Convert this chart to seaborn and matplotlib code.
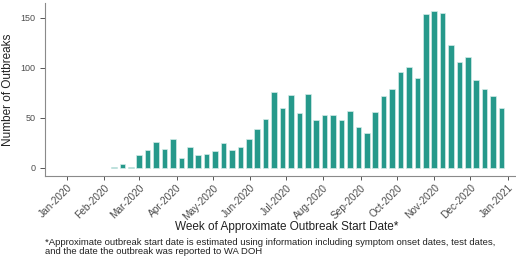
import matplotlib
matplotlib.use("Agg")
import matplotlib.pyplot as plt
import matplotlib.dates as mdates
import seaborn as sns
import numpy as np
import pandas as pd

# weekly outbreak counts, weeks starting Sunday
week_start = "2020-02-09"
n_weeks = 47
outbreaks = [
    1, 4, 1, 13, 18, 26, 19, 29, 10, 21, 13, 14, 17, 25, 18, 21, 29, 39,
    49, 76, 60, 73, 55, 74, 48, 53, 53, 48, 57, 41, 35, 56, 72, 79, 96,
    101, 90, 154, 157, 155, 123, 106, 111, 88, 79, 72, 60,
]
month_ticks = pd.date_range("2020-01-01", "2021-01-01", freq="MS")
y_ticks = [0, 50, 100, 150]

bar_color = "#26998b"
grey_text = "#4d4d4d"

weeks = pd.date_range(week_start, periods=n_weeks, freq="7D")
df = pd.DataFrame({"x": mdates.date2num(weeks), "n": outbreaks})

sns.set_style("ticks")
plt.rcParams["font.family"] = ["Liberation Sans", "DejaVu Sans"]

fig = plt.figure(figsize=(5.16, 2.59), dpi=100)
ax = fig.add_axes([45 / 516, 1 - 175.7 / 259, 1 - 45 / 516, (175.7 - 3) / 259])

sns.barplot(
    data=df, x="x", y="n", native_scale=True, width=0.66,
    color=bar_color, saturation=1, edgecolor="#d4ece8", linewidth=0.5, ax=ax,
)

x0 = mdates.date2num(pd.Timestamp("2020-01-01"))
ax.set_xlim(x0 - 18.3, x0 + 373)
ax.set_ylim(-7.85, 164.85)

ax.set_xticks(mdates.date2num(month_ticks))
ax.xaxis.set_major_formatter(mdates.DateFormatter("%b-%Y"))
plt.setp(ax.get_xticklabels(), rotation=45, ha="right", rotation_mode="anchor")
ax.set_yticks(y_ticks)

ax.tick_params(axis="both", labelcolor=grey_text,
               color="#555555", length=3, width=0.7, pad=2)
ax.tick_params(axis="x", labelsize=7.3)
ax.tick_params(axis="y", labelsize=6.5, length=3.5, pad=3.5)
for side in ["top", "right"]:
    ax.spines[side].set_visible(False)
for side in ["left", "bottom"]:
    ax.spines[side].set_color("#8a8a8a")
    ax.spines[side].set_linewidth(0.8)

ax.set_xlabel("")
ax.set_ylabel("Number of Outbreaks", fontsize=8.5, color="#222222")
ax.yaxis.set_label_coords(-31 / 471, 0.5)
fig.text(287 / 516, 1 - 230 / 259, "Week of Approximate Outbreak Start Date*",
         ha="center", va="baseline", fontsize=8.5, color="#222222")
fig.text(45 / 516, 1 - 247 / 259,
         "*Approximate outbreak start date is estimated using information including symptom onset dates, test dates,\n"
         "and the date the outbreak was reported to WA DOH",
         ha="left", va="center", fontsize=6.8, color="#222222", linespacing=0.95)

fig.savefig("out.png", dpi=100)
